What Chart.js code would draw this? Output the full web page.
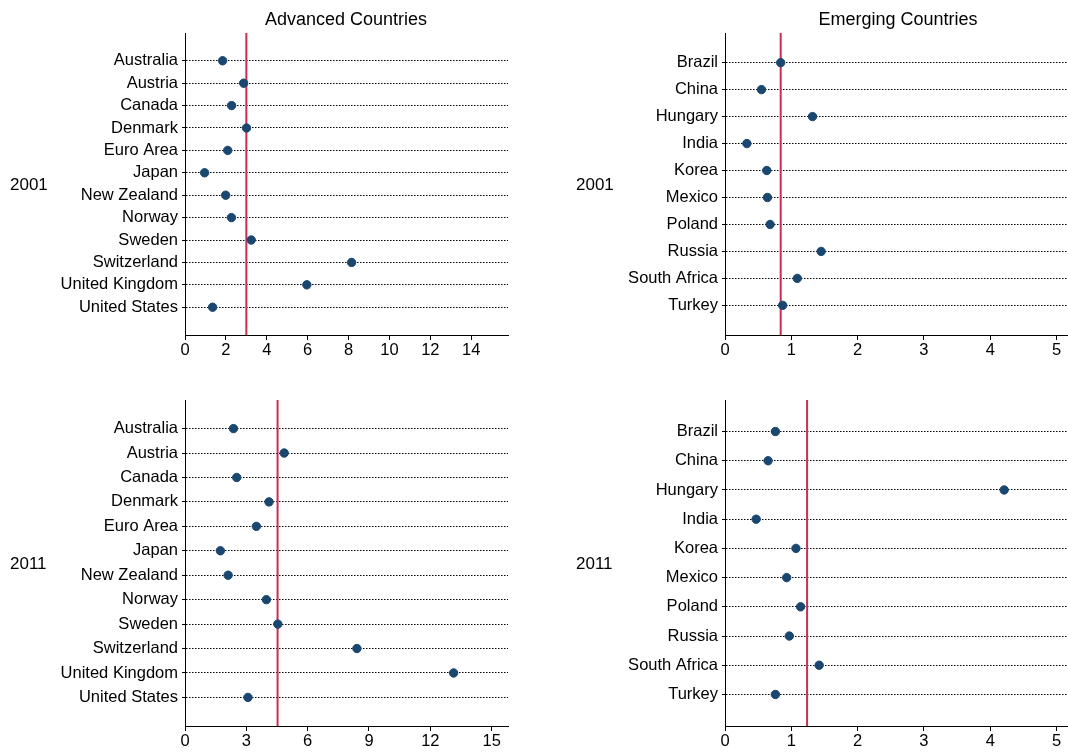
<!DOCTYPE html>
<html>
<head>
<meta charset="utf-8">
<script src="https://cdn.jsdelivr.net/npm/chart.js@4.4.0/dist/chart.umd.min.js"></script>
<style>
  body { margin: 0; background: #fff; font-family: "Liberation Sans", Arial, sans-serif; }
  #wrap { position: relative; width: 1068px; height: 754px; overflow: hidden; }
  canvas { position: absolute; }
  .lbl { position: absolute; color: #000; white-space: nowrap; line-height: 1; }
  .ttl { font-size: 18px; transform: translateX(-50%); }
  .yr { font-size: 17px; }
</style>
</head>
<body>
<div id="wrap">
  <canvas id="advTop" width="520" height="377" style="left:0;top:0"></canvas>
  <canvas id="emgTop" width="539" height="377" style="left:534px;top:0"></canvas>
  <canvas id="advBot" width="520" height="377" style="left:0;top:377px"></canvas>
  <canvas id="emgBot" width="539" height="377" style="left:534px;top:377px"></canvas>

  <div class="lbl ttl" style="left:346px;top:10px">Advanced Countries</div>
  <div class="lbl ttl" style="left:898px;top:10px">Emerging Countries</div>
  <div class="lbl yr" style="left:10px;top:176px">2001</div>
  <div class="lbl yr" style="left:576px;top:176px">2001</div>
  <div class="lbl yr" style="left:10px;top:555px">2011</div>
  <div class="lbl yr" style="left:576px;top:555px">2011</div>
</div>
<script>
'use strict';

const advanced = ['Australia', 'Austria', 'Canada', 'Denmark', 'Euro Area', 'Japan',
  'New Zealand', 'Norway', 'Sweden', 'Switzerland', 'United Kingdom', 'United States'];
const emerging = ['Brazil', 'China', 'Hungary', 'India', 'Korea', 'Mexico',
  'Poland', 'Russia', 'South Africa', 'Turkey'];

const adv2001 = [1.84, 2.87, 2.28, 3.01, 2.09, 0.96, 1.99, 2.27, 3.24, 8.15, 5.96, 1.35];
const adv2011 = [2.37, 4.85, 2.53, 4.11, 3.49, 1.73, 2.11, 3.98, 4.54, 8.41, 13.14, 3.08];
const emg2001 = [0.84, 0.55, 1.32, 0.33, 0.63, 0.64, 0.68, 1.45, 1.09, 0.87];
const emg2011 = [0.76, 0.65, 4.21, 0.47, 1.07, 0.93, 1.14, 0.97, 1.42, 0.76];

const advTicks2001 = [0, 2, 4, 6, 8, 10, 12, 14];
const advTicks2011 = [0, 3, 6, 9, 12, 15];
const emgTicks = [0, 1, 2, 3, 4, 5];

const dotColor = '#1a476f';
const meanColor = '#cc2c54';
const font = { family: '"Liberation Sans", Arial, sans-serif', size: 16.5 };

function mean(arr) {
  return arr.reduce((a, b) => a + b, 0) / arr.length;
}

function makeChart(id, names, values, ticks, xMax, yPad, yWidth, padTop, padRight, xHeight) {
  const m = mean(values);
  const yMin = -yPad;
  const yMax = names.length - 1 + yPad;
  const ctx = document.getElementById(id).getContext('2d');

  return new Chart(ctx, {
    type: 'scatter',
    data: {
      datasets: [
        {
          data: values.map((v, i) => ({ x: v, y: i })),
          backgroundColor: dotColor,
          borderColor: dotColor,
          pointRadius: 4.2,
          pointHoverRadius: 4.2,
          order: 0
        },
        {
          type: 'line',
          data: [{ x: m, y: yMin }, { x: m, y: yMax }],
          borderColor: meanColor,
          borderWidth: 2,
          pointRadius: 0,
          order: 1
        }
      ]
    },
    options: {
      responsive: false,
      animation: false,
      layout: { padding: { top: padTop, right: padRight, left: 0, bottom: 0 } },
      plugins: {
        legend: { display: false },
        tooltip: { enabled: false }
      },
      scales: {
        x: {
          type: 'linear',
          min: 0,
          max: xMax,
          afterBuildTicks: function (scale) {
            scale.ticks = ticks.map(v => ({ value: v }));
          },
          afterFit: function (scale) {
            scale.height = xHeight;
          },
          ticks: { color: '#000', font: font, padding: 1, maxRotation: 0 },
          grid: { drawOnChartArea: false, color: '#000', tickLength: 5 },
          border: { color: '#000', width: 1 }
        },
        y: {
          type: 'linear',
          reverse: true,
          min: yMin,
          max: yMax,
          afterBuildTicks: function (scale) {
            scale.ticks = names.map((n, i) => ({ value: i }));
          },
          afterFit: function (scale) {
            scale.width = yWidth;
          },
          ticks: {
            color: '#000',
            font: font,
            padding: 4,
            callback: function (value) {
              return names[value];
            }
          },
          grid: { color: '#000', lineWidth: 1, tickLength: 3 },
          border: { color: '#000', width: 1, dash: [1.5, 1.5] }
        }
      }
    }
  });
}

makeChart('advTop', advanced, adv2001, advTicks2001, 15.8, 1.24, 185, 33, 12, 42);
makeChart('emgTop', emerging, emg2001, emgTicks, 5.17, 1.1, 191, 33, 0, 42);
makeChart('advBot', advanced, adv2011, advTicks2011, 15.8, 1.17, 185, 23, 12, 28);
makeChart('emgBot', emerging, emg2011, emgTicks, 5.17, 1.08, 191, 23, 0, 28);
</script>
</body>
</html>
